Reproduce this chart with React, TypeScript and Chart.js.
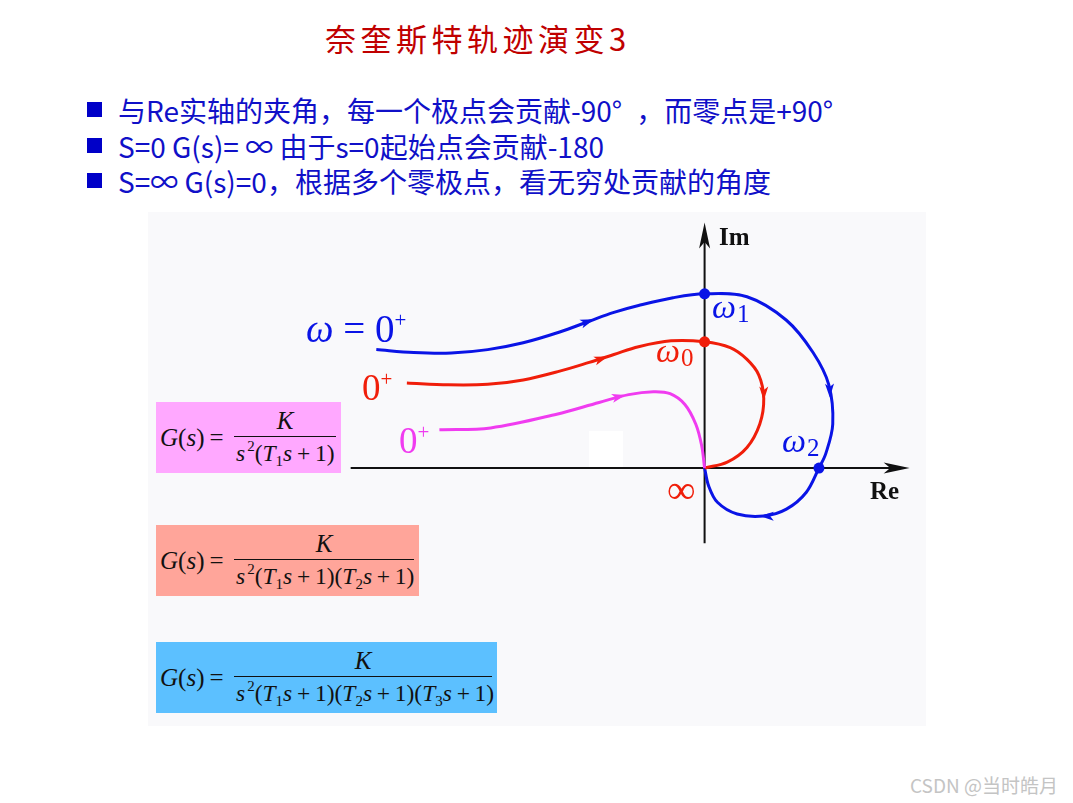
import React, { useEffect, useRef } from "react";
import { Chart, registerables } from "chart.js";
Chart.register(...registerables);

// Curves in the (Re, Im) plane
const blueRe = [-3.33, -2.95, -2.57, -2.2, -1.84, -1.47, -1.17, -0.92, -0.67, -0.32, 0, 0.43, 0.83, 1.1, 1.26, 1.3, 1.23, 1.16, 1.03, 0.83, 0.6, 0.33, 0.13, 0.04, 0];
const blueIm = [1.21, 1.18, 1.175, 1.21, 1.28, 1.39, 1.5, 1.59, 1.66, 1.74, 1.78, 1.75, 1.51, 1.18, 0.85, 0.45, 0.15, 0, -0.25, -0.42, -0.49, -0.47, -0.35, -0.18, 0];
const redRe = [-3.02, -2.6, -2.2, -1.84, -1.47, -1.17, -0.92, -0.67, -0.34, 0, 0.26, 0.43, 0.55, 0.6, 0.56, 0.43, 0.23, 0];
const redIm = [0.87, 0.85, 0.855, 0.9, 0.99, 1.08, 1.16, 1.24, 1.3, 1.29, 1.23, 1.11, 0.95, 0.71, 0.45, 0.21, 0.06, 0];
const magRe = [-2.69, -2.17, -1.5, -1.07, -0.77, -0.52, -0.35, -0.2, -0.09, -0.03, 0];
const magIm = [0.39, 0.41, 0.55, 0.67, 0.75, 0.78, 0.76, 0.65, 0.45, 0.23, 0];

// Marked frequencies
const blueDotsRe = [0, 1.16];
const blueDotsIm = [1.78, 0];
const redDotsRe = [0];
const redDotsIm = [1.29];

// Direction arrows: position and tangent direction
const arrowColor = ["#0a14e6", "#0a14e6", "#0a14e6", "#f01e0a", "#f01e0a", "#f03cf0"];
const arrowRe = [-1.12, 1.27, 0.56, -0.98, 0.6, -0.8];
const arrowIm = [1.52, 0.72, -0.49, 1.14, 0.69, 0.745];
const arrowDx = [0.55, 0.02, -1, 0.5, 0, 0.5];
const arrowDy = [0.2, -1, 0.02, 0.17, -1, 0.12];

// Axes extents
const axisReMin = -3.59;
const axisReMax = 2.08;
const axisImMin = -0.77;
const axisImMax = 2.51;

const BLUE = "#0a14e6";
const RED = "#f01e0a";
const MAG = "#f03cf0";

const toPts = (xs: number[], ys: number[]) => xs.map((x, i) => ({ x, y: ys[i] }));

function drawHead(ctx: CanvasRenderingContext2D, x: number, y: number, ang: number, len: number, hw: number, color: string) {
  ctx.save();
  ctx.translate(x, y);
  ctx.rotate(ang);
  ctx.beginPath();
  ctx.moveTo(0, 0);
  ctx.lineTo(-len, -hw);
  ctx.lineTo(-len * 0.75, 0);
  ctx.lineTo(-len, hw);
  ctx.closePath();
  ctx.fillStyle = color;
  ctx.fill();
  ctx.restore();
}

const nyquistPlugin = {
  id: "nyquist",
  beforeDatasetsDraw(chart: any) {
    const { ctx, scales } = chart;
    const xs = scales.x, ys = scales.y;
    const ox = xs.getPixelForValue(0), oy = ys.getPixelForValue(0);
    ctx.save();
    ctx.strokeStyle = "#111";
    ctx.lineWidth = 2;
    ctx.beginPath();
    ctx.moveTo(xs.getPixelForValue(axisReMin), oy);
    ctx.lineTo(xs.getPixelForValue(axisReMax) - 10, oy);
    ctx.moveTo(ox, ys.getPixelForValue(axisImMin));
    ctx.lineTo(ox, ys.getPixelForValue(axisImMax) + 10);
    ctx.stroke();
    ctx.restore();
    drawHead(ctx, xs.getPixelForValue(axisReMax), oy, 0, 26, 5.5, "#111");
    drawHead(ctx, ox, ys.getPixelForValue(axisImMax), -Math.PI / 2, 26, 5.5, "#111");
  },
  afterDatasetsDraw(chart: any) {
    const { ctx, scales } = chart;
    arrowRe.forEach((r, i) => {
      const px = scales.x.getPixelForValue(r);
      const py = scales.y.getPixelForValue(arrowIm[i]);
      const ang = Math.atan2(-arrowDy[i], arrowDx[i]);
      drawHead(ctx, px, py, ang, 14, 4.5, arrowColor[i]);
    });
  },
};

const T = "\u2009";

function Frac({ den, w }: { den: React.ReactNode; w: number }) {
  return (
    <span style={{ display: "inline-flex", flexDirection: "column", alignItems: "center", width: w, position: "relative", top: 0 }}>
      <span style={{ fontStyle: "italic", lineHeight: "30px", height: 30 }}>K</span>
      <span style={{ borderTop: "1.5px solid #111", width: "100%", height: 32, position: "relative" }}>
        <span style={{ position: "absolute", left: 2, top: 0, lineHeight: "32px", whiteSpace: "nowrap", fontSize: 23.5 }}>{den}</span>
      </span>
    </span>
  );
}

const S2 = () => (
  <>
    <i>s</i>
    <span style={{ fontSize: 15, position: "relative", top: -10, marginLeft: 2 }}>2</span>
  </>
);
const Fac = ({ n }: { n: string }) => (
  <>
    (<i>T</i>
    <span style={{ fontSize: 15, position: "relative", top: 5 }}>{n}</span>
    <i>s</i>{T}+{T}1)
  </>
);

function FormulaBox({ top, width, bg, n }: { top: number; width: number; bg: string; n: number }) {
  const facs = [];
  for (let i = 1; i <= n; i++) facs.push(<Fac key={i} n={String(i)} />);
  return (
    <div
      style={{
        position: "absolute",
        left: 156,
        top,
        width,
        height: 71,
        background: bg,
        fontFamily: "'Liberation Serif', 'DejaVu Serif', serif",
        fontSize: 25,
        color: "#111",
        boxSizing: "border-box",
      }}
    >
      <span style={{ position: "absolute", left: 4, top: 21, lineHeight: "30px", whiteSpace: "nowrap" }}>
        <i>G</i>(<i>s</i>){T}=
      </span>
      <span style={{ position: "absolute", left: 78, top: 4 }}>
        <Frac w={width - 83} den={<><S2 />{facs}</>} />
      </span>
    </div>
  );
}

const abs = (left: number, top: number, extra: React.CSSProperties = {}): React.CSSProperties => ({
  position: "absolute",
  left,
  top,
  whiteSpace: "nowrap",
  lineHeight: 1,
  ...extra,
});

function Omega({ left, top, sub, color }: { left: number; top: number; sub: string; color: string }) {
  return (
    <div style={abs(left, top, { fontFamily: "'Liberation Serif', 'DejaVu Serif', serif", fontSize: 34, color })}>
      <i>ω</i>
      <span style={{ fontSize: 25, position: "relative", top: 4, marginLeft: 1 }}>{sub}</span>
    </div>
  );
}

export default function App() {
  const ref = useRef<HTMLCanvasElement>(null);
  useEffect(() => {
    if (!ref.current) return;
    const line = (data: any, color: string) => ({
      data,
      showLine: true,
      borderColor: color,
      borderWidth: 3,
      pointRadius: 0,
      tension: 0.35,
      fill: false,
    });
    const dots = (data: any, color: string) => ({
      data,
      showLine: false,
      pointRadius: 5.5,
      pointBackgroundColor: color,
      pointBorderWidth: 0,
      borderColor: color,
    });
    const chart = new Chart(ref.current, {
      type: "scatter",
      data: {
        datasets: [
          line(toPts(magRe, magIm), MAG),
          line(toPts(redRe, redIm), RED),
          line(toPts(blueRe, blueIm), BLUE),
          dots(toPts(redDotsRe, redDotsIm), RED),
          dots(toPts(blueDotsRe, blueDotsIm), BLUE),
        ],
      },
      options: {
        responsive: false,
        animation: false,
        layout: { padding: 0 },
        plugins: { legend: { display: false }, tooltip: { enabled: false } },
        scales: {
          x: { type: "linear", min: -5.59, max: 2.19, display: false },
          y: { type: "linear", min: -2.58, max: 2.56, display: false },
        },
      },
      plugins: [nyquistPlugin],
    } as any);
    return () => chart.destroy();
  }, []);

  const serif = "'Liberation Serif', 'DejaVu Serif', serif";
  const cjk = "'Noto Sans CJK SC', 'Noto Sans', sans-serif";
  const bullets = [
    "与Re实轴的夹角，每一个极点会贡献-90°\u2002，而零点是+90°",
    "S=0 G(s)= ∞ 由于s=0起始点会贡献-180",
    "S=∞ G(s)=0，根据多个零极点，看无穷处贡献的角度",
  ];
  const bulletTop = [96, 132, 167];

  return (
    <div style={{ position: "absolute", left: 0, top: 0, width: 1073, height: 803, background: "#fff", overflow: "hidden" }}>
      <div style={abs(325, 22, { fontFamily: cjk, fontSize: 31, color: "#c00000", letterSpacing: 4.5 })}>奈奎斯特轨迹演变3</div>
      {bullets.map((b, i) => (
        <React.Fragment key={i}>
          <div style={{ position: "absolute", left: 87, top: bulletTop[i] + 6, width: 15, height: 15, background: "#0000c8" }} />
          <div style={abs(118, bulletTop[i], { fontFamily: cjk, fontSize: 28, color: "#1010c8", lineHeight: "28px" })}>{b}</div>
        </React.Fragment>
      ))}
      <div style={{ position: "absolute", left: 148, top: 212, width: 778, height: 514, background: "#f9f9fb" }} />
      <div style={{ position: "absolute", left: 589, top: 431, width: 34, height: 37, background: "#ffffff" }} />
      <canvas ref={ref} width={778} height={514} style={{ position: "absolute", left: 148, top: 212, width: 778, height: 514 }} />

      <div style={abs(719, 224, { fontFamily: serif, fontWeight: "bold", fontSize: 25, color: "#111" })}>Im</div>
      <div style={abs(870, 478, { fontFamily: serif, fontWeight: "bold", fontSize: 25, color: "#111" })}>Re</div>
      <Omega left={712} top={290} sub="1" color={BLUE} />
      <Omega left={656} top={334} sub="0" color={RED} />
      <Omega left={782} top={424} sub="2" color={BLUE} />
      <div style={abs(667, 470, { fontFamily: serif, fontSize: 40, color: RED })}>∞</div>
      <div style={abs(306, 309, { fontFamily: serif, fontSize: 39, color: BLUE })}>
        <i>ω</i> = 0<span style={{ fontSize: 21, position: "relative", top: -15 }}>+</span>
      </div>
      <div style={abs(362, 369, { fontFamily: serif, fontSize: 37, color: RED })}>
        0<span style={{ fontSize: 21, position: "relative", top: -14 }}>+</span>
      </div>
      <div style={abs(399, 422, { fontFamily: serif, fontSize: 37, color: MAG })}>
        0<span style={{ fontSize: 21, position: "relative", top: -14 }}>+</span>
      </div>

      <FormulaBox top={402} width={185} bg="#ffa8ff" n={1} />
      <FormulaBox top={525} width={263} bg="#ffa59a" n={2} />
      <FormulaBox top={642} width={341} bg="#5cc0ff" n={3} />

      <div style={abs(910, 775, { fontFamily: cjk, fontSize: 19, color: "#c4c4c4" })}>CSDN @当时皓月</div>
    </div>
  );
}
